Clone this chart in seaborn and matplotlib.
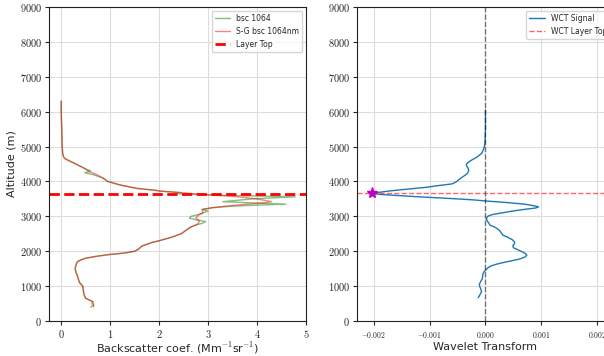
import numpy as np
import pandas as pd
import seaborn as sns
import matplotlib
matplotlib.use("Agg")
import matplotlib.pyplot as plt
from matplotlib.ticker import FuncFormatter, MultipleLocator

# ---- backscatter profile (altitude in m, bsc in Mm^-1 sr^-1) ----
alt_bsc = [6300, 6000, 5500, 5000, 4800, 4700, 4650, 4600, 4500, 4400,
           4300, 4250, 4200, 4100, 4000, 3900, 3800, 3750, 3720, 3700,
           3680, 3660, 3640, 3600, 3560, 3500, 3420, 3380, 3350, 3300,
           3250, 3200, 3150, 3100, 3050, 3000, 2950, 2900, 2850, 2800,
           2750, 2700, 2600, 2500, 2400, 2300, 2250, 2150, 2050, 2000,
           1950, 1900, 1850, 1800, 1750, 1700, 1600, 1500, 1400, 1300,
           1200, 1100, 1000, 900, 800, 700, 650, 600, 550, 500, 450, 400]
bsc_raw = [0.0, 0.0, 0.01, 0.02, 0.03, 0.05, 0.08, 0.15, 0.30, 0.44,
           0.60, 0.48, 0.64, 0.85, 0.95, 1.2, 1.55, 1.9, 2.05, 2.25,
           2.45, 2.35, 2.45, 3.4, 4.78, 3.9, 3.30, 4.0, 4.59, 3.6,
           3.1, 2.87, 3.0, 2.9, 2.8, 2.65, 2.62, 2.75, 2.95, 2.88,
           2.75, 2.65, 2.55, 2.45, 2.25, 2.0, 1.85, 1.65, 1.57, 1.5,
           1.3, 0.95, 0.7, 0.5, 0.4, 0.33, 0.3, 0.28, 0.3, 0.33,
           0.35, 0.38, 0.44, 0.45, 0.46, 0.48, 0.5, 0.58, 0.65, 0.62, 0.66, 0.60]
bsc_sg = [0.0, 0.0, 0.01, 0.02, 0.03, 0.05, 0.08, 0.15, 0.30, 0.44,
          0.55, 0.63, 0.72, 0.85, 0.95, 1.2, 1.55, 1.9, 2.05, 2.25,
          2.45, 2.6, 2.8, 3.2, 3.6, 4.0, 4.3, 4.1, 3.8, 3.4,
          3.1, 2.9, 2.88, 2.9, 2.82, 2.78, 2.75, 2.8, 2.82, 2.8,
          2.75, 2.65, 2.55, 2.45, 2.25, 2.0, 1.85, 1.65, 1.57, 1.5,
          1.3, 0.95, 0.7, 0.5, 0.4, 0.33, 0.3, 0.29, 0.3, 0.33,
          0.35, 0.37, 0.44, 0.45, 0.46, 0.48, 0.5, 0.58, 0.65, 0.66, 0.66, 0.66]
layer_top = 3650

# ---- wavelet covariance transform profile ----
alt_wct = [6050, 5500, 5100, 5000, 4900, 4800, 4700, 4620, 4560, 4500,
           4450, 4380, 4300, 4220, 4150, 4060, 3980, 3930, 3880, 3830,
           3780, 3730, 3690, 3660, 3630, 3600, 3560, 3530, 3500, 3470,
           3440, 3400, 3350, 3300, 3270, 3240, 3200, 3150, 3100, 3050,
           3000, 2950, 2900, 2850, 2750, 2680, 2600, 2530, 2460, 2400,
           2330, 2270, 2220, 2160, 2100, 2050, 1980, 1930, 1880, 1830,
           1780, 1730, 1680, 1630, 1580, 1520, 1460, 1400, 1330, 1270,
           1200, 1120, 1050, 980, 900, 840, 780, 720, 670]
wct = [0.0, 0.0, -0.00001, -0.00002, -0.00004, -0.00007, -0.00015, -0.00024, -0.0003, -0.00034,
       -0.00034, -0.00031, -0.0003, -0.00033, -0.00039, -0.00047, -0.00053, -0.0006, -0.00085, -0.00107,
       -0.0014, -0.0017, -0.0019, -0.00203, -0.0019, -0.0016, -0.0012, -0.00085, -0.0005, -0.0002,
       0.0, 0.00035, 0.0007, 0.00088, 0.00095, 0.0009, 0.0007, 0.00048, 0.0003, 0.00012,
       0.00004, 0.00002, 0.00002, 0.00004, 0.00008, 0.00018, 0.00025, 0.00028, 0.00031, 0.0004,
       0.00048, 0.00052, 0.00052, 0.00049, 0.0005, 0.00057, 0.00066, 0.00072, 0.00074, 0.0007,
       0.00062, 0.00048, 0.00033, 0.0002, 0.0001, 0.00004, 0.0, -0.00003, -0.00005, -0.00005,
       -0.00006, -0.00009, -0.00011, -0.0001, -0.00008, -0.00007, -0.00009, -0.00011, -0.00013]
wct_top_alt = 3660
wct_top_val = -0.00203

sns.set_style("ticks", {"axes.grid": True, "grid.color": "#dcdcdc",
                        "axes.edgecolor": "#222222"})
plt.rcParams["mathtext.fontset"] = "cm"
plt.rcParams["font.family"] = ["DejaVu Sans"]

fig = plt.figure(figsize=(6.04, 3.56), dpi=100)
ax1 = fig.add_axes([0.0811, 0.0983, 0.4255, 0.882])
ax2 = fig.add_axes([0.591, 0.0983, 0.4255, 0.882])

df_bsc = pd.DataFrame({"alt": alt_bsc, "raw": bsc_raw, "sg": bsc_sg})
sns.lineplot(data=df_bsc, x="raw", y="alt", sort=False, estimator=None,
             color="green", alpha=0.5, lw=1, label="bsc 1064", ax=ax1)
sns.lineplot(data=df_bsc, x="sg", y="alt", sort=False, estimator=None,
             color="red", alpha=0.5, lw=1, label="S-G bsc 1064nm", ax=ax1)
ax1.axhline(layer_top, color="red", ls="--", lw=2, label="Layer Top")
ax1.set_xlim(-0.25, 5)
ax1.set_ylim(0, 9000)
ax1.xaxis.set_major_locator(MultipleLocator(1))
ax1.set_xlabel("Backscatter coef. (Mm$^{-1}$sr$^{-1}$)", fontsize=8, labelpad=0.5)
ax1.set_ylabel("Altitude (m)", fontsize=8, labelpad=2)

df_wct = pd.DataFrame({"alt": alt_wct, "wct": wct})
sns.lineplot(data=df_wct, x="wct", y="alt", sort=False, estimator=None,
             color="tab:blue", lw=1, label="WCT Signal", ax=ax2)
ax2.axvline(0, color="k", ls="--", lw=1, alpha=0.5)
ax2.axhline(wct_top_alt, color="red", ls="--", lw=1, alpha=0.6, label="WCT Layer Top")
ax2.plot([wct_top_val], [wct_top_alt], marker="*", color="m", ms=8, ls="none")
ax2.set_xlim(-0.0023, 0.0023)
ax2.set_ylim(0, 9000)
ax2.xaxis.set_major_locator(MultipleLocator(0.001))
ax2.set_xlabel("Wavelet Transform", fontsize=8, labelpad=1.5)
ax2.set_ylabel("")

fmt_int = FuncFormatter(lambda v, p: r"$%d$" % round(v))
fmt_small = FuncFormatter(lambda v, p: r"$%.3f$" % v if abs(v) > 1e-12 else r"$0.000$")
for ax in (ax1, ax2):
    ax.yaxis.set_major_locator(MultipleLocator(1000))
    ax.yaxis.set_major_formatter(fmt_int)
    ax.tick_params(labelsize=7.5, length=3, width=0.8, pad=2)
    ax.grid(True, color="#dcdcdc", lw=0.8)
    for s in ax.spines.values():
        s.set_visible(True)
        s.set_linewidth(0.8)
ax1.xaxis.set_major_formatter(fmt_int)
ax2.xaxis.set_major_formatter(fmt_small)
ax2.tick_params(axis="x", labelsize=5.5, pad=3.5)

ax1.legend(loc="upper right", fontsize=5.5, frameon=True, fancybox=True, framealpha=0.8)
ax2.legend(loc="upper right", fontsize=5.5, frameon=True, fancybox=True, framealpha=0.8)

fig.savefig("out.png", dpi=100)
